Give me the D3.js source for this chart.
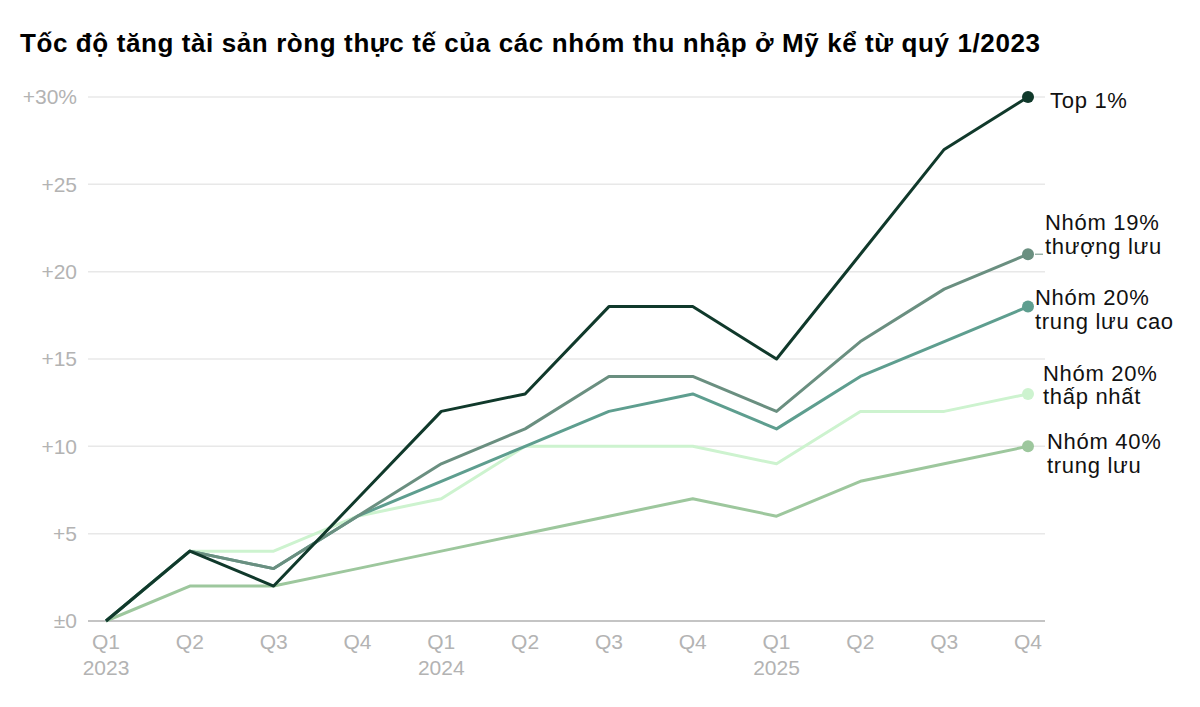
<!DOCTYPE html>
<html lang="vi">
<head>
    <meta charset="UTF-8">
    <title>Tốc độ tăng tài sản ròng thực tế</title>
    <script src="https://d3js.org/d3.v7.min.js"></script>
    <style>
        body { margin: 0; background: #fff; font-family: "Liberation Sans", Arial, sans-serif; }
        .title { font-size: 26px; font-weight: bold; fill: #000; letter-spacing: 0.6px; }
        .grid line { stroke: #e8e8e8; stroke-width: 1.5px; }
        .tick-label { font-size: 21px; fill: #b3b3b3; }
        .series-label { font-size: 22px; fill: #111; letter-spacing: 0.7px; }
    </style>
</head>
<body>
    <svg id="chart" width="1200" height="707"></svg>

    <script>
        // dữ liệu
        const quarters = ["Q1", "Q2", "Q3", "Q4", "Q1", "Q2", "Q3", "Q4", "Q1", "Q2", "Q3", "Q4"];
        const years = ["2023", "", "", "", "2024", "", "", "", "2025", "", "", ""];
        const yTicks = [0, 5, 10, 15, 20, 25, 30];

        const top1 = [0, 4, 2, 7, 12, 13, 18, 18, 15, 21, 27, 30];
        const upper19 = [0, 4, 3, 6, 9, 11, 14, 14, 12, 16, 19, 21];
        const upperMiddle20 = [0, 4, 3, 6, 8, 10, 12, 13, 11, 14, 16, 18];
        const bottom20 = [0, 4, 4, 6, 7, 10, 10, 10, 9, 12, 12, 13];
        const middle40 = [0, 2, 2, 3, 4, 5, 6, 7, 6, 8, 9, 10];

        const series = [
            { name: "Nhóm 40%|trung lưu", values: middle40, color: "#9dc79d", lx: 1047, ly: [-5, 27] },
            { name: "Nhóm 20%|thấp nhất", values: bottom20, color: "#cdf3cf", lx: 1043, ly: [-21, 10] },
            { name: "Nhóm 20%|trung lưu cao", values: upperMiddle20, color: "#5e9e8f", lx: 1035, ly: [-9, 22] },
            { name: "Nhóm 19%|thượng lưu", values: upper19, color: "#6a8f80", lx: 1045, ly: [-32, 0] },
            { name: "Top 1%", values: top1, color: "#10392b", lx: 1050, ly: [3] }
        ];

        const svg = d3.select("#chart");
        const margin = { left: 106, right: 172, top: 97, bottom: 86 };
        const width = 1200, height = 707;

        const x = d3.scalePoint()
            .domain(d3.range(quarters.length))
            .range([margin.left, width - margin.right]);

        const y = d3.scaleLinear()
            .domain([0, 30])
            .range([height - margin.bottom, margin.top]);

        svg.append("text")
            .attr("class", "title")
            .attr("x", 20)
            .attr("y", 52)
            .text("Tốc độ tăng tài sản ròng thực tế của các nhóm thu nhập ở Mỹ kể từ quý 1/2023");

        // lưới
        const grid = svg.append("g").attr("class", "grid");
        grid.selectAll("line")
            .data(yTicks)
            .enter().append("line")
            .attr("x1", 88)
            .attr("x2", 1045)
            .attr("y1", d => y(d))
            .attr("y2", d => y(d))
            .style("stroke", d => d === 0 ? "#c4c4c4" : null)
            .style("stroke-width", d => d === 0 ? 2 : null);

        svg.append("g").selectAll("text")
            .data(yTicks)
            .enter().append("text")
            .attr("class", "tick-label")
            .attr("x", 77)
            .attr("y", d => y(d))
            .attr("dy", "0.35em")
            .attr("text-anchor", "end")
            .text(d => d === 0 ? "±0" : d === 30 ? "+30%" : "+" + d);

        const xAxis = svg.append("g");
        xAxis.selectAll(".q")
            .data(quarters)
            .enter().append("text")
            .attr("class", "tick-label")
            .attr("x", (d, i) => x(i))
            .attr("y", 649)
            .attr("text-anchor", "middle")
            .text(d => d);
        xAxis.selectAll(".yr")
            .data(years)
            .enter().append("text")
            .attr("class", "tick-label")
            .attr("x", (d, i) => x(i))
            .attr("y", 675)
            .attr("text-anchor", "middle")
            .text(d => d);

        const line = d3.line()
            .x((d, i) => x(i))
            .y(d => y(d));

        const groups = svg.selectAll(".series")
            .data(series)
            .enter().append("g");

        groups.append("path")
            .attr("d", d => line(d.values))
            .attr("fill", "none")
            .attr("stroke", d => d.color)
            .attr("stroke-width", 3)
            .attr("stroke-linejoin", "round");

        groups.append("circle")
            .attr("cx", x(quarters.length - 1))
            .attr("cy", d => y(d.values[d.values.length - 1]))
            .attr("r", 6)
            .attr("fill", d => d.color);

        groups.each(function(d) {
            const g = d3.select(this);
            const endY = y(d.values[d.values.length - 1]);
            const lines = d.name.split("|");
            const t = g.append("text")
                .attr("class", "series-label")
                .attr("dy", "0.35em");
            lines.forEach((s, i) => {
                t.append("tspan")
                    .attr("x", d.lx)
                    .attr("y", endY + d.ly[i])
                    .text(s);
            });
        });

        // vạch nối nhãn nhóm 19%
        const y19 = y(upper19[upper19.length - 1]);
        svg.append("line")
            .attr("x1", x(quarters.length - 1) + 7)
            .attr("x2", 1043)
            .attr("y1", y19)
            .attr("y2", y19)
            .attr("stroke", "#6a8f80")
            .attr("stroke-width", 1);
    </script>
</body>
</html>
